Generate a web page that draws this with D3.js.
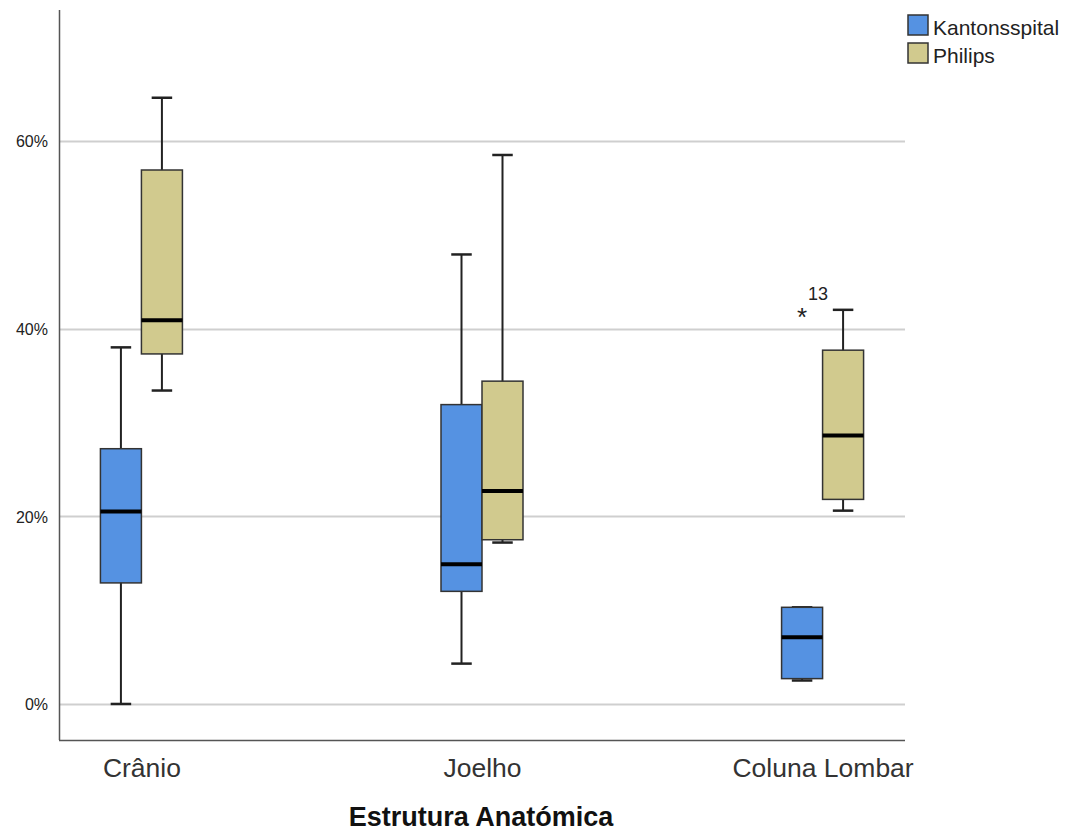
<!DOCTYPE html>
<html>
<head>
    <meta charset="utf-8" />
    <title>Estrutura Anatómica boxplot</title>
    <style>
        body{
            margin: 0;
            background: #fff;
            overflow: hidden;
        }
        text{
            font-family: "Liberation Sans", Arial, sans-serif;
        }
    </style>
</head>
<body>
    <div id="chart"></div>
    <script src="https://d3js.org/d3.v7.min.js"></script>
    <script>
        // categories and series
        var categories = ["Crânio", "Joelho", "Coluna Lombar"];
        var series = ["Kantonsspital", "Philips"];
        var seriesColors = ["#5592E2", "#D1CA8E"];
        // box stats per series, per category: [min, q1, median, q3, max] in %
        var kantonsspital = [
            [0.0, 12.9, 20.5, 27.2, 38.0],
            [4.3, 12.0, 14.9, 31.9, 47.9],
            [2.5, 2.7, 7.1, 10.3, 10.3]
        ];
        var philips = [
            [33.4, 37.3, 40.9, 56.9, 64.6],
            [17.2, 17.5, 22.7, 34.4, 58.5],
            [20.6, 21.8, 28.6, 37.7, 42.0]
        ];
        // extreme values: category, series, value, case label
        var outliers = [
            { cat: "Coluna Lombar", ser: "Kantonsspital", value: 41.8, label: "13" }
        ];
        var yTicks = [0, 20, 40, 60];

        var width = 1074, height = 833;
        var plot = { left: 59, right: 905, top: 10, bottom: 740 };

        var svg = d3.select("#chart")
            .append("svg")
            .attr("width", width)
            .attr("height", height);

        var y = d3.scaleLinear()
            .domain([-3.84, 73.95])
            .range([plot.bottom, plot.top]);

        var x = d3.scalePoint()
            .domain(categories)
            .range([plot.left, plot.right])
            .padding(0.242);

        var xSub = d3.scaleBand()
            .domain(series)
            .range([-41, 41]);

        var color = d3.scaleOrdinal(series, seriesColors);

        // gridlines
        svg.append("g")
            .selectAll("line")
            .data(yTicks)
            .join("line")
            .attr("x1", plot.left)
            .attr("x2", plot.right)
            .attr("y1", d => Math.round(y(d)) + 0.5)
            .attr("y2", d => Math.round(y(d)) + 0.5)
            .style("stroke", "#cfcfcf")
            .style("stroke-width", 2);

        // y axis
        var yAxis = svg.append("g")
            .attr("transform", `translate(${plot.left},0)`)
            .call(d3.axisLeft(y).tickValues(yTicks).tickSize(0).tickPadding(11).tickFormat(d => d + "%"));
        yAxis.select(".domain").remove();
        yAxis.selectAll("text")
            .attr("dy", "0.36em")
            .style("font-size", "16px")
            .style("fill", "#222");

        // x axis labels
        var xAxis = svg.append("g")
            .attr("transform", `translate(0,${plot.bottom})`)
            .call(d3.axisBottom(x).tickSize(0).tickPadding(0));
        xAxis.select(".domain").remove();
        xAxis.selectAll("text")
            .attr("dy", null)
            .attr("y", 37)
            .style("font-size", "26.5px")
            .style("fill", "#333");

        // axis lines
        svg.append("line")
            .attr("x1", plot.left + 0.5).attr("x2", plot.left + 0.5)
            .attr("y1", plot.top).attr("y2", plot.bottom)
            .style("stroke", "#555").style("stroke-width", 1.5);
        svg.append("line")
            .attr("x1", plot.left).attr("x2", plot.right)
            .attr("y1", plot.bottom + 0.5).attr("y2", plot.bottom + 0.5)
            .style("stroke", "#555").style("stroke-width", 1.5);

        // axis title
        svg.append("text")
            .attr("x", 481)
            .attr("y", 826)
            .attr("text-anchor", "middle")
            .style("font-size", "27px")
            .style("font-weight", "bold")
            .style("fill", "#111")
            .text("Estrutura Anatómica");

        // build box data
        var boxes = [];
        [kantonsspital, philips].forEach(function (arr, si) {
            arr.forEach(function (s, ci) {
                boxes.push({ cat: categories[ci], ser: series[si], min: s[0], q1: s[1], med: s[2], q3: s[3], max: s[4] });
            });
        });

        var bw = xSub.bandwidth();
        var g = svg.selectAll("g.box")
            .data(boxes)
            .join("g")
            .attr("class", "box")
            .attr("transform", d => `translate(${x(d.cat) + xSub(d.ser)},0)`);

        // whiskers
        g.append("line")
            .attr("x1", bw / 2).attr("x2", bw / 2)
            .attr("y1", d => y(d.max)).attr("y2", d => y(d.min))
            .style("stroke", "#222").style("stroke-width", 2);
        g.append("line")
            .attr("x1", bw / 4).attr("x2", bw * 3 / 4)
            .attr("y1", d => y(d.max)).attr("y2", d => y(d.max))
            .style("stroke", "#222").style("stroke-width", 2.5);
        g.append("line")
            .attr("x1", bw / 4).attr("x2", bw * 3 / 4)
            .attr("y1", d => y(d.min)).attr("y2", d => y(d.min))
            .style("stroke", "#222").style("stroke-width", 2.5);

        // boxes
        g.append("rect")
            .attr("x", 0)
            .attr("width", bw)
            .attr("y", d => y(d.q3))
            .attr("height", d => y(d.q1) - y(d.q3))
            .style("fill", d => color(d.ser))
            .style("stroke", "#333")
            .style("stroke-width", 1.5);

        // medians
        g.append("line")
            .attr("x1", 0).attr("x2", bw)
            .attr("y1", d => y(d.med)).attr("y2", d => y(d.med))
            .style("stroke", "#000").style("stroke-width", 4);

        // outliers
        var og = svg.selectAll("g.outlier")
            .data(outliers)
            .join("g")
            .attr("class", "outlier")
            .attr("transform", d => `translate(${x(d.cat) + xSub(d.ser) + bw / 2},${y(d.value)})`);
        og.append("text")
            .attr("text-anchor", "middle")
            .attr("y", 14)
            .style("font-size", "26px")
            .style("fill", "#222")
            .text("*");
        og.append("text")
            .attr("x", 6)
            .attr("y", -12)
            .style("font-size", "18px")
            .style("fill", "#222")
            .text(d => d.label);

        // legend
        var legend = svg.selectAll("g.legend")
            .data(series)
            .join("g")
            .attr("class", "legend")
            .attr("transform", (d, i) => `translate(908,${15 + i * 28})`);
        legend.append("rect")
            .attr("width", 20).attr("height", 20)
            .style("fill", d => color(d))
            .style("stroke", "#333")
            .style("stroke-width", 1.5);
        legend.append("text")
            .attr("x", 25)
            .attr("y", 20)
            .style("font-size", "21px")
            .style("fill", "#222")
            .text(d => d);
    </script>
</body>
</html>
